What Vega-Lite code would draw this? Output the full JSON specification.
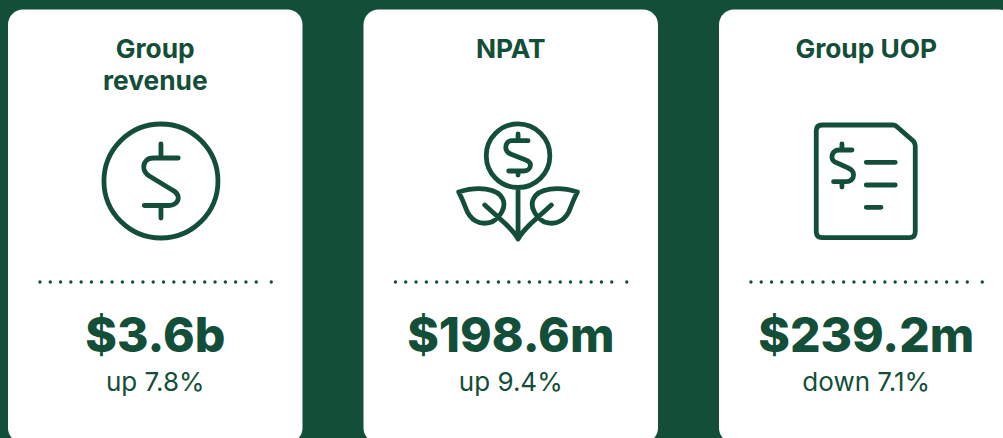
{"$schema":"https://vega.github.io/schema/vega-lite/v6.json","width":1003,"height":438,"padding":0,"autosize":{"type":"none"},"background":"#134e39","view":{"stroke":null},"config":{"view":{"stroke":null}},"data":{"values":[{"card":"revenue","title":"Group\nrevenue","value":"$3.6b","change":"up 7.8%"},{"card":"npat","title":"NPAT","value":"$198.6m","change":"up 9.4%"},{"card":"uop","title":"Group UOP","value":"$239.2m","change":"down 7.1%"}]},"encoding":{"x":{"field":"card","type":"nominal","axis":null,"sort":null,"scale":{"type":"band","domain":["revenue","npat","uop"],"range":[8,1013.5],"paddingInner":0.1716,"paddingOuter":0}}},"layer":[{"mark":{"type":"bar","color":"#ffffff","cornerRadius":15,"clip":true},"encoding":{"y":{"datum":9.5,"type":"quantitative","axis":null,"scale":{"domain":[0,438],"range":[0,438],"nice":false,"zero":false}},"y2":{"datum":443}}},{"mark":{"type":"text","font":"Inter","fontSize":26.3,"fontWeight":700,"color":"#134e39","baseline":"alphabetic","align":"center","lineBreak":"\n","lineHeight":32},"encoding":{"text":{"field":"title"},"y":{"datum":58,"type":"quantitative"}}},{"mark":{"type":"point","filled":false,"size":4,"opacity":1,"strokeWidth":4.8,"strokeCap":"round","strokeJoin":"round","color":"#134e39"},"encoding":{"y":{"datum":181,"type":"quantitative"},"shape":{"field":"card","type":"nominal","legend":null,"scale":{"domain":["revenue","npat","uop"],"range":["M-51.3,0 a57,57 0 1,0 114,0 a57,57 0 1,0 -114,0 M23,-23 H-2 C-8,-23 -11.5,-19 -11.5,-14 C-11.5,-10 -9,-7 -6,-5 L17,9 C21,11 23,13 23,17 C23,21 19,24.5 14,24.5 H-11 M5.7,-37 V-24 M5.7,24.5 V37","M-24.5,-25.3 a31.8,31.8 0 1,0 63.6,0 a31.8,31.8 0 1,0 -63.6,0 M17.3,-40.3 H1 C-3,-40.3 -5,-37 -5,-33.5 C-5,-30 -3,-28 1,-26.5 L15,-21 C18,-20 19.7,-18 19.7,-16 C19.7,-12.5 17,-10 13,-10 H-2 M7.3,-47 V-41 M7.3,-10 V-6 M7.3,7 V58 M-52,11 C-33,5 -13,7 -8,18 C-4,26 -11,37 -19,41 C-31,45 -41,39 -45,27 C-48,19 -50,15 -52,11 Z M-26,24 L-5,43 C0,48 4,52 7.3,58 M66.6,11 C47.6,5 27.6,7 22.6,18 C18.6,26 25.6,37 33.6,41 C45.6,45 55.6,39 59.6,27 C62.6,19 64.6,15 66.6,11 Z M40.6,24 L19.6,43 C14.6,48 10.6,52 7.3,58","M-44,-56 H27 Q29,-56 31,-54 L47,-40 Q49,-38 49,-35 V50.7 Q49,56.7 43,56.7 H-44 Q-50,56.7 -50,50.7 V-50 Q-50,-56 -44,-56 Z M-14.3,-31 H-27 C-31,-31 -34.3,-28.5 -34.3,-24 C-34.3,-21 -32,-19 -29,-18 L-18,-13 C-14.5,-11.5 -12.7,-9 -12.7,-6 C-12.7,-2 -16,0.7 -20,0.7 H-32.7 M-24.3,-37 V-31 M-24.3,0.7 V6 M0,-18.7 H29 M0,4 H29 M0,26.3 H14.7"]}}}},{"mark":{"type":"point","filled":false,"size":4,"opacity":1,"strokeWidth":3.4,"strokeCap":"round","color":"#134e39","strokeDash":[0,10.3],"shape":"M-115.3,0 H102 M116,0 h0.01"},"encoding":{"y":{"datum":282,"type":"quantitative"}}},{"mark":{"type":"text","font":"Inter","fontSize":48,"fontWeight":800,"color":"#134e39","baseline":"alphabetic","align":"center"},"encoding":{"text":{"field":"value"},"y":{"datum":352,"type":"quantitative"}}},{"mark":{"type":"text","font":"Inter","fontSize":26,"fontWeight":400,"color":"#134e39","baseline":"alphabetic","align":"center"},"encoding":{"text":{"field":"change"},"y":{"datum":391,"type":"quantitative"}}}]}
